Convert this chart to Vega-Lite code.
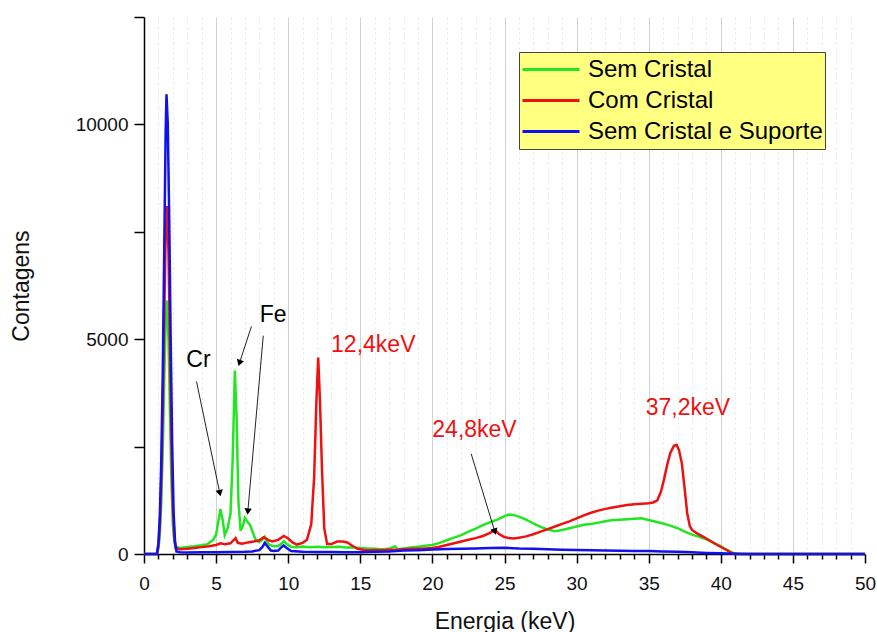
{
  "$schema": "https://vega.github.io/schema/vega-lite/v6.json",
  "width": 721,
  "height": 537,
  "autosize": "none",
  "padding": {"left": 144, "top": 17, "right": 12, "bottom": 78},
  "background": "white",
  "config": {
    "view": {"stroke": null},
    "font": "Liberation Sans",
    "legend": {
      "orient": "none",
      "legendX": 375,
      "legendY": 35,
      "fillColor": "#FFFF80",
      "strokeColor": "#444444",
      "padding": 2,
      "symbolType": "stroke",
      "symbolSize": 3249,
      "symbolStrokeWidth": 3,
      "clipHeight": 31,
      "labelFontSize": 24,
      "labelFont": "Liberation Sans",
      "labelColor": "#000000",
      "labelOffset": 7,
      "labelLimit": 400,
      "rowPadding": 0
    }
  },
  "datasets": {
    "spectra": [
      {"s": "Sem Cristal", "x": 0, "y": 0}, {"s": "Sem Cristal", "x": 0.9, "y": 0}, {"s": "Sem Cristal", "x": 1.0, "y": 120}, {"s": "Sem Cristal", "x": 1.1, "y": 450}, {"s": "Sem Cristal", "x": 1.2, "y": 1200}, {"s": "Sem Cristal", "x": 1.3, "y": 2400}, {"s": "Sem Cristal", "x": 1.4, "y": 4000}, {"s": "Sem Cristal", "x": 1.5, "y": 5400}, {"s": "Sem Cristal", "x": 1.6, "y": 5900}, {"s": "Sem Cristal", "x": 1.7, "y": 5000}, {"s": "Sem Cristal", "x": 1.8, "y": 3300}, {"s": "Sem Cristal", "x": 1.9, "y": 1700}, {"s": "Sem Cristal", "x": 2.0, "y": 700}, {"s": "Sem Cristal", "x": 2.1, "y": 280}, {"s": "Sem Cristal", "x": 2.2, "y": 170}, {"s": "Sem Cristal", "x": 2.5, "y": 140}, {"s": "Sem Cristal", "x": 3.0, "y": 165}, {"s": "Sem Cristal", "x": 3.5, "y": 180}, {"s": "Sem Cristal", "x": 4.0, "y": 205}, {"s": "Sem Cristal", "x": 4.4, "y": 230}, {"s": "Sem Cristal", "x": 4.8, "y": 330}, {"s": "Sem Cristal", "x": 5.0, "y": 450}, {"s": "Sem Cristal", "x": 5.15, "y": 750}, {"s": "Sem Cristal", "x": 5.3, "y": 1040}, {"s": "Sem Cristal", "x": 5.45, "y": 800}, {"s": "Sem Cristal", "x": 5.6, "y": 440}, {"s": "Sem Cristal", "x": 5.8, "y": 600}, {"s": "Sem Cristal", "x": 6.0, "y": 950}, {"s": "Sem Cristal", "x": 6.15, "y": 2200}, {"s": "Sem Cristal", "x": 6.3, "y": 4270}, {"s": "Sem Cristal", "x": 6.42, "y": 3200}, {"s": "Sem Cristal", "x": 6.55, "y": 1200}, {"s": "Sem Cristal", "x": 6.7, "y": 540}, {"s": "Sem Cristal", "x": 6.85, "y": 650}, {"s": "Sem Cristal", "x": 7.0, "y": 840}, {"s": "Sem Cristal", "x": 7.15, "y": 760}, {"s": "Sem Cristal", "x": 7.35, "y": 680}, {"s": "Sem Cristal", "x": 7.55, "y": 500}, {"s": "Sem Cristal", "x": 7.75, "y": 320}, {"s": "Sem Cristal", "x": 8.0, "y": 280}, {"s": "Sem Cristal", "x": 8.2, "y": 330}, {"s": "Sem Cristal", "x": 8.38, "y": 400}, {"s": "Sem Cristal", "x": 8.55, "y": 280}, {"s": "Sem Cristal", "x": 8.7, "y": 210}, {"s": "Sem Cristal", "x": 9.0, "y": 180}, {"s": "Sem Cristal", "x": 9.3, "y": 185}, {"s": "Sem Cristal", "x": 9.5, "y": 230}, {"s": "Sem Cristal", "x": 9.7, "y": 300}, {"s": "Sem Cristal", "x": 9.9, "y": 230}, {"s": "Sem Cristal", "x": 10.2, "y": 170}, {"s": "Sem Cristal", "x": 10.6, "y": 160}, {"s": "Sem Cristal", "x": 11.0, "y": 175}, {"s": "Sem Cristal", "x": 11.5, "y": 160}, {"s": "Sem Cristal", "x": 12.0, "y": 170}, {"s": "Sem Cristal", "x": 12.5, "y": 155}, {"s": "Sem Cristal", "x": 13.0, "y": 165}, {"s": "Sem Cristal", "x": 13.5, "y": 170}, {"s": "Sem Cristal", "x": 14.0, "y": 150}, {"s": "Sem Cristal", "x": 14.5, "y": 155}, {"s": "Sem Cristal", "x": 15.0, "y": 140}, {"s": "Sem Cristal", "x": 15.5, "y": 130}, {"s": "Sem Cristal", "x": 16.0, "y": 120}, {"s": "Sem Cristal", "x": 16.5, "y": 110}, {"s": "Sem Cristal", "x": 17.0, "y": 120}, {"s": "Sem Cristal", "x": 17.4, "y": 180}, {"s": "Sem Cristal", "x": 17.6, "y": 110}, {"s": "Sem Cristal", "x": 18.0, "y": 130}, {"s": "Sem Cristal", "x": 18.5, "y": 150}, {"s": "Sem Cristal", "x": 19.0, "y": 170}, {"s": "Sem Cristal", "x": 19.5, "y": 190}, {"s": "Sem Cristal", "x": 20.0, "y": 210}, {"s": "Sem Cristal", "x": 20.5, "y": 260}, {"s": "Sem Cristal", "x": 21.0, "y": 320}, {"s": "Sem Cristal", "x": 21.5, "y": 380}, {"s": "Sem Cristal", "x": 22.0, "y": 440}, {"s": "Sem Cristal", "x": 22.5, "y": 520}, {"s": "Sem Cristal", "x": 23.0, "y": 590}, {"s": "Sem Cristal", "x": 23.5, "y": 670}, {"s": "Sem Cristal", "x": 24.0, "y": 740}, {"s": "Sem Cristal", "x": 24.5, "y": 800}, {"s": "Sem Cristal", "x": 25.0, "y": 880}, {"s": "Sem Cristal", "x": 25.3, "y": 920}, {"s": "Sem Cristal", "x": 25.6, "y": 910}, {"s": "Sem Cristal", "x": 26.0, "y": 870}, {"s": "Sem Cristal", "x": 26.5, "y": 800}, {"s": "Sem Cristal", "x": 27.0, "y": 710}, {"s": "Sem Cristal", "x": 27.5, "y": 630}, {"s": "Sem Cristal", "x": 28.0, "y": 570}, {"s": "Sem Cristal", "x": 28.5, "y": 530}, {"s": "Sem Cristal", "x": 29.0, "y": 560}, {"s": "Sem Cristal", "x": 29.5, "y": 600}, {"s": "Sem Cristal", "x": 30.0, "y": 640}, {"s": "Sem Cristal", "x": 30.5, "y": 680}, {"s": "Sem Cristal", "x": 31.0, "y": 700}, {"s": "Sem Cristal", "x": 31.5, "y": 730}, {"s": "Sem Cristal", "x": 32.0, "y": 760}, {"s": "Sem Cristal", "x": 32.5, "y": 790}, {"s": "Sem Cristal", "x": 33.0, "y": 800}, {"s": "Sem Cristal", "x": 33.5, "y": 810}, {"s": "Sem Cristal", "x": 34.0, "y": 820}, {"s": "Sem Cristal", "x": 34.5, "y": 830}, {"s": "Sem Cristal", "x": 35.0, "y": 790}, {"s": "Sem Cristal", "x": 35.5, "y": 750}, {"s": "Sem Cristal", "x": 36.0, "y": 710}, {"s": "Sem Cristal", "x": 36.5, "y": 660}, {"s": "Sem Cristal", "x": 37.0, "y": 600}, {"s": "Sem Cristal", "x": 37.5, "y": 520}, {"s": "Sem Cristal", "x": 38.0, "y": 450}, {"s": "Sem Cristal", "x": 38.5, "y": 400}, {"s": "Sem Cristal", "x": 39.0, "y": 340}, {"s": "Sem Cristal", "x": 39.5, "y": 260}, {"s": "Sem Cristal", "x": 40.0, "y": 185}, {"s": "Sem Cristal", "x": 40.4, "y": 100}, {"s": "Sem Cristal", "x": 40.8, "y": 30}, {"s": "Sem Cristal", "x": 41.2, "y": 0}, {"s": "Sem Cristal", "x": 50, "y": 0},

      {"s": "Com Cristal", "x": 0, "y": 0}, {"s": "Com Cristal", "x": 0.9, "y": 0}, {"s": "Com Cristal", "x": 1.0, "y": 200}, {"s": "Com Cristal", "x": 1.1, "y": 700}, {"s": "Com Cristal", "x": 1.2, "y": 1700}, {"s": "Com Cristal", "x": 1.3, "y": 3300}, {"s": "Com Cristal", "x": 1.4, "y": 5400}, {"s": "Com Cristal", "x": 1.5, "y": 7400}, {"s": "Com Cristal", "x": 1.6, "y": 8100}, {"s": "Com Cristal", "x": 1.7, "y": 7000}, {"s": "Com Cristal", "x": 1.8, "y": 4800}, {"s": "Com Cristal", "x": 1.9, "y": 2600}, {"s": "Com Cristal", "x": 2.0, "y": 1100}, {"s": "Com Cristal", "x": 2.1, "y": 400}, {"s": "Com Cristal", "x": 2.2, "y": 140}, {"s": "Com Cristal", "x": 2.5, "y": 110}, {"s": "Com Cristal", "x": 3.0, "y": 120}, {"s": "Com Cristal", "x": 3.5, "y": 140}, {"s": "Com Cristal", "x": 4.0, "y": 160}, {"s": "Com Cristal", "x": 4.5, "y": 180}, {"s": "Com Cristal", "x": 5.0, "y": 210}, {"s": "Com Cristal", "x": 5.3, "y": 250}, {"s": "Com Cristal", "x": 5.6, "y": 230}, {"s": "Com Cristal", "x": 6.0, "y": 250}, {"s": "Com Cristal", "x": 6.2, "y": 320}, {"s": "Com Cristal", "x": 6.35, "y": 370}, {"s": "Com Cristal", "x": 6.5, "y": 260}, {"s": "Com Cristal", "x": 6.8, "y": 240}, {"s": "Com Cristal", "x": 7.2, "y": 270}, {"s": "Com Cristal", "x": 7.6, "y": 290}, {"s": "Com Cristal", "x": 8.0, "y": 320}, {"s": "Com Cristal", "x": 8.3, "y": 390}, {"s": "Com Cristal", "x": 8.6, "y": 330}, {"s": "Com Cristal", "x": 8.9, "y": 290}, {"s": "Com Cristal", "x": 9.3, "y": 330}, {"s": "Com Cristal", "x": 9.7, "y": 420}, {"s": "Com Cristal", "x": 10.0, "y": 360}, {"s": "Com Cristal", "x": 10.3, "y": 270}, {"s": "Com Cristal", "x": 10.6, "y": 220}, {"s": "Com Cristal", "x": 11.0, "y": 260}, {"s": "Com Cristal", "x": 11.3, "y": 330}, {"s": "Com Cristal", "x": 11.6, "y": 700}, {"s": "Com Cristal", "x": 11.8, "y": 1800}, {"s": "Com Cristal", "x": 11.95, "y": 3500}, {"s": "Com Cristal", "x": 12.08, "y": 4570}, {"s": "Com Cristal", "x": 12.2, "y": 3600}, {"s": "Com Cristal", "x": 12.35, "y": 1900}, {"s": "Com Cristal", "x": 12.5, "y": 600}, {"s": "Com Cristal", "x": 12.7, "y": 230}, {"s": "Com Cristal", "x": 13.0, "y": 230}, {"s": "Com Cristal", "x": 13.4, "y": 290}, {"s": "Com Cristal", "x": 13.8, "y": 290}, {"s": "Com Cristal", "x": 14.1, "y": 270}, {"s": "Com Cristal", "x": 14.5, "y": 180}, {"s": "Com Cristal", "x": 14.8, "y": 120}, {"s": "Com Cristal", "x": 15.2, "y": 100}, {"s": "Com Cristal", "x": 15.5, "y": 90}, {"s": "Com Cristal", "x": 16.0, "y": 95}, {"s": "Com Cristal", "x": 16.5, "y": 90}, {"s": "Com Cristal", "x": 17.0, "y": 100}, {"s": "Com Cristal", "x": 17.5, "y": 100}, {"s": "Com Cristal", "x": 18.0, "y": 110}, {"s": "Com Cristal", "x": 18.5, "y": 120}, {"s": "Com Cristal", "x": 19.0, "y": 120}, {"s": "Com Cristal", "x": 19.5, "y": 130}, {"s": "Com Cristal", "x": 20.0, "y": 140}, {"s": "Com Cristal", "x": 20.5, "y": 170}, {"s": "Com Cristal", "x": 21.0, "y": 210}, {"s": "Com Cristal", "x": 21.5, "y": 250}, {"s": "Com Cristal", "x": 22.0, "y": 290}, {"s": "Com Cristal", "x": 22.5, "y": 330}, {"s": "Com Cristal", "x": 23.0, "y": 370}, {"s": "Com Cristal", "x": 23.5, "y": 420}, {"s": "Com Cristal", "x": 24.0, "y": 490}, {"s": "Com Cristal", "x": 24.33, "y": 560}, {"s": "Com Cristal", "x": 24.6, "y": 470}, {"s": "Com Cristal", "x": 24.95, "y": 400}, {"s": "Com Cristal", "x": 25.3, "y": 370}, {"s": "Com Cristal", "x": 25.64, "y": 360}, {"s": "Com Cristal", "x": 26.0, "y": 380}, {"s": "Com Cristal", "x": 26.5, "y": 410}, {"s": "Com Cristal", "x": 27.0, "y": 460}, {"s": "Com Cristal", "x": 27.5, "y": 520}, {"s": "Com Cristal", "x": 28.0, "y": 580}, {"s": "Com Cristal", "x": 28.5, "y": 640}, {"s": "Com Cristal", "x": 29.0, "y": 700}, {"s": "Com Cristal", "x": 29.5, "y": 760}, {"s": "Com Cristal", "x": 30.0, "y": 830}, {"s": "Com Cristal", "x": 30.5, "y": 900}, {"s": "Com Cristal", "x": 31.0, "y": 960}, {"s": "Com Cristal", "x": 31.5, "y": 1010}, {"s": "Com Cristal", "x": 32.0, "y": 1050}, {"s": "Com Cristal", "x": 32.5, "y": 1080}, {"s": "Com Cristal", "x": 33.0, "y": 1110}, {"s": "Com Cristal", "x": 33.5, "y": 1140}, {"s": "Com Cristal", "x": 34.0, "y": 1160}, {"s": "Com Cristal", "x": 34.5, "y": 1170}, {"s": "Com Cristal", "x": 35.0, "y": 1180}, {"s": "Com Cristal", "x": 35.3, "y": 1200}, {"s": "Com Cristal", "x": 35.6, "y": 1250}, {"s": "Com Cristal", "x": 35.85, "y": 1450}, {"s": "Com Cristal", "x": 36.05, "y": 1720}, {"s": "Com Cristal", "x": 36.3, "y": 2100}, {"s": "Com Cristal", "x": 36.5, "y": 2350}, {"s": "Com Cristal", "x": 36.75, "y": 2520}, {"s": "Com Cristal", "x": 36.93, "y": 2540}, {"s": "Com Cristal", "x": 37.1, "y": 2420}, {"s": "Com Cristal", "x": 37.3, "y": 2110}, {"s": "Com Cristal", "x": 37.5, "y": 1500}, {"s": "Com Cristal", "x": 37.67, "y": 950}, {"s": "Com Cristal", "x": 37.85, "y": 650}, {"s": "Com Cristal", "x": 38.0, "y": 560}, {"s": "Com Cristal", "x": 38.4, "y": 470}, {"s": "Com Cristal", "x": 38.8, "y": 400}, {"s": "Com Cristal", "x": 39.2, "y": 320}, {"s": "Com Cristal", "x": 39.75, "y": 210}, {"s": "Com Cristal", "x": 40.3, "y": 110}, {"s": "Com Cristal", "x": 40.8, "y": 15}, {"s": "Com Cristal", "x": 41.0, "y": 0}, {"s": "Com Cristal", "x": 50, "y": 0},

      {"s": "Sem Cristal e Suporte", "x": 0, "y": 0}, {"s": "Sem Cristal e Suporte", "x": 0.9, "y": 0}, {"s": "Sem Cristal e Suporte", "x": 1.0, "y": 250}, {"s": "Sem Cristal e Suporte", "x": 1.1, "y": 900}, {"s": "Sem Cristal e Suporte", "x": 1.2, "y": 2200}, {"s": "Sem Cristal e Suporte", "x": 1.3, "y": 4200}, {"s": "Sem Cristal e Suporte", "x": 1.4, "y": 7000}, {"s": "Sem Cristal e Suporte", "x": 1.5, "y": 9800}, {"s": "Sem Cristal e Suporte", "x": 1.56, "y": 10700}, {"s": "Sem Cristal e Suporte", "x": 1.65, "y": 10000}, {"s": "Sem Cristal e Suporte", "x": 1.75, "y": 7800}, {"s": "Sem Cristal e Suporte", "x": 1.85, "y": 5000}, {"s": "Sem Cristal e Suporte", "x": 1.95, "y": 2600}, {"s": "Sem Cristal e Suporte", "x": 2.05, "y": 1000}, {"s": "Sem Cristal e Suporte", "x": 2.15, "y": 300}, {"s": "Sem Cristal e Suporte", "x": 2.25, "y": 60}, {"s": "Sem Cristal e Suporte", "x": 2.5, "y": 40}, {"s": "Sem Cristal e Suporte", "x": 3.0, "y": 35}, {"s": "Sem Cristal e Suporte", "x": 4.0, "y": 40}, {"s": "Sem Cristal e Suporte", "x": 5.0, "y": 40}, {"s": "Sem Cristal e Suporte", "x": 6.0, "y": 45}, {"s": "Sem Cristal e Suporte", "x": 7.0, "y": 50}, {"s": "Sem Cristal e Suporte", "x": 7.5, "y": 60}, {"s": "Sem Cristal e Suporte", "x": 8.0, "y": 90}, {"s": "Sem Cristal e Suporte", "x": 8.2, "y": 160}, {"s": "Sem Cristal e Suporte", "x": 8.38, "y": 260}, {"s": "Sem Cristal e Suporte", "x": 8.6, "y": 160}, {"s": "Sem Cristal e Suporte", "x": 8.8, "y": 80}, {"s": "Sem Cristal e Suporte", "x": 9.0, "y": 70}, {"s": "Sem Cristal e Suporte", "x": 9.3, "y": 80}, {"s": "Sem Cristal e Suporte", "x": 9.5, "y": 150}, {"s": "Sem Cristal e Suporte", "x": 9.68, "y": 200}, {"s": "Sem Cristal e Suporte", "x": 9.9, "y": 140}, {"s": "Sem Cristal e Suporte", "x": 10.2, "y": 70}, {"s": "Sem Cristal e Suporte", "x": 11.0, "y": 50}, {"s": "Sem Cristal e Suporte", "x": 12.0, "y": 45}, {"s": "Sem Cristal e Suporte", "x": 13.0, "y": 45}, {"s": "Sem Cristal e Suporte", "x": 14.0, "y": 40}, {"s": "Sem Cristal e Suporte", "x": 15.0, "y": 40}, {"s": "Sem Cristal e Suporte", "x": 16.0, "y": 50}, {"s": "Sem Cristal e Suporte", "x": 17.0, "y": 60}, {"s": "Sem Cristal e Suporte", "x": 18.0, "y": 80}, {"s": "Sem Cristal e Suporte", "x": 19.0, "y": 90}, {"s": "Sem Cristal e Suporte", "x": 20.0, "y": 105}, {"s": "Sem Cristal e Suporte", "x": 21.0, "y": 115}, {"s": "Sem Cristal e Suporte", "x": 22.0, "y": 125}, {"s": "Sem Cristal e Suporte", "x": 23.0, "y": 130}, {"s": "Sem Cristal e Suporte", "x": 24.0, "y": 140}, {"s": "Sem Cristal e Suporte", "x": 25.0, "y": 145}, {"s": "Sem Cristal e Suporte", "x": 26.0, "y": 130}, {"s": "Sem Cristal e Suporte", "x": 27.0, "y": 125}, {"s": "Sem Cristal e Suporte", "x": 28.0, "y": 110}, {"s": "Sem Cristal e Suporte", "x": 29.0, "y": 100}, {"s": "Sem Cristal e Suporte", "x": 30.0, "y": 95}, {"s": "Sem Cristal e Suporte", "x": 31.0, "y": 90}, {"s": "Sem Cristal e Suporte", "x": 32.0, "y": 80}, {"s": "Sem Cristal e Suporte", "x": 33.0, "y": 75}, {"s": "Sem Cristal e Suporte", "x": 34.0, "y": 70}, {"s": "Sem Cristal e Suporte", "x": 35.0, "y": 70}, {"s": "Sem Cristal e Suporte", "x": 36.0, "y": 60}, {"s": "Sem Cristal e Suporte", "x": 37.0, "y": 50}, {"s": "Sem Cristal e Suporte", "x": 38.0, "y": 40}, {"s": "Sem Cristal e Suporte", "x": 39.0, "y": 25}, {"s": "Sem Cristal e Suporte", "x": 40.0, "y": 15}, {"s": "Sem Cristal e Suporte", "x": 41.0, "y": 5}, {"s": "Sem Cristal e Suporte", "x": 42.0, "y": 0}, {"s": "Sem Cristal e Suporte", "x": 50, "y": 0}
    ],
    "arrows": [
      {"x": 3.64, "y": 4016, "x2": 5.26, "y2": 1415},
      {"x": 7.45, "y": 5298, "x2": 6.62, "y2": 4445},
      {"x": 8.27, "y": 5082, "x2": 7.2, "y2": 986},
      {"x": 22.69, "y": 2331, "x2": 24.33, "y2": 520}
    ],
    "labelsBlack": [
      {"t": "Cr", "x": 3.78, "y": 4359},
      {"t": "Fe", "x": 8.95, "y": 5392}
    ],
    "labelsRed": [
      {"t": "12,4keV", "x": 15.9, "y": 4692},
      {"t": "24,8keV", "x": 22.92, "y": 2720},
      {"t": "37,2keV", "x": 37.72, "y": 3240}
    ]
  },
  "encoding": {
    "x": {
      "field": "x",
      "type": "quantitative",
      "title": "Energia (keV)",
      "scale": {"domain": [0, 50], "nice": false, "zero": false},
      "axis": {
        "values": [0,1,2,3,4,5,6,7,8,9,10,11,12,13,14,15,16,17,18,19,20,21,22,23,24,25,26,27,28,29,30,31,32,33,34,35,36,37,38,39,40,41,42,43,44,45,46,47,48,49,50],
        "labelExpr": "datum.value % 5 === 0 ? datum.label : ''",
        "labelFontSize": 19,
        "labelColor": "#111111",
        "labelPadding": 11,
        "labelFlush": false,
        "labelOverlap": false,
        "tickSize": {"condition": {"test": "datum.value % 5 === 0", "value": 9}, "value": 5},
        "tickColor": "#000000",
        "tickWidth": 1.5,
        "domainColor": "#000000",
        "domainWidth": 1.5,
        "grid": true,
        "gridColor": {"condition": {"test": "datum.value % 5 === 0", "value": "#d2d2d2"}, "value": "#e6e6e6"},
        "gridDash": {"condition": {"test": "datum.value % 5 === 0", "value": []}, "value": [2, 3]},
        "gridOpacity": {"condition": {"test": "datum.value === 0 || datum.value === 50", "value": 0}, "value": 1},
        "gridWidth": 1,
        "titleFontSize": 23,
        "titleFontWeight": "normal",
        "titleColor": "#111111",
        "titleY": 74,
        "titleBaseline": "alphabetic"
      }
    },
    "y": {
      "field": "y",
      "type": "quantitative",
      "title": "Contagens",
      "scale": {"domain": [0, 12500], "nice": false},
      "axis": {
        "values": [0, 2500, 5000, 7500, 10000, 12500],
        "format": "d",
        "labelExpr": "datum.value % 5000 === 0 ? datum.label : ''",
        "labelFontSize": 19,
        "labelColor": "#111111",
        "labelPadding": 6,
        "tickSize": 10,
        "tickColor": "#000000",
        "tickWidth": 1.5,
        "domainColor": "#000000",
        "domainWidth": 1.5,
        "grid": false,
        "titleFontSize": 23,
        "titleFontWeight": "normal",
        "titleColor": "#111111",
        "titleX": -116,
        "titleBaseline": "alphabetic"
      }
    }
  },
  "layer": [
    {
      "data": {"name": "spectra"},
      "transform": [{"filter": "datum.s === 'Sem Cristal'"}],
      "mark": {"type": "line", "strokeWidth": 2.5},
      "encoding": {
        "color": {"field": "s", "type": "nominal", "scale": {"domain": ["Sem Cristal", "Com Cristal", "Sem Cristal e Suporte"], "range": ["#22e622", "#ee1111", "#1111ee"]}, "legend": {"title": null}}
      }
    },
    {
      "data": {"name": "spectra"},
      "transform": [{"filter": "datum.s === 'Com Cristal'"}],
      "mark": {"type": "line", "strokeWidth": 2.5},
      "encoding": {
        "color": {"field": "s", "type": "nominal", "scale": {"domain": ["Sem Cristal", "Com Cristal", "Sem Cristal e Suporte"], "range": ["#22e622", "#ee1111", "#1111ee"]}, "legend": {"title": null}}
      }
    },
    {
      "data": {"name": "spectra"},
      "transform": [{"filter": "datum.s === 'Sem Cristal e Suporte'"}],
      "mark": {"type": "line", "strokeWidth": 2.5},
      "encoding": {
        "color": {"field": "s", "type": "nominal", "scale": {"domain": ["Sem Cristal", "Com Cristal", "Sem Cristal e Suporte"], "range": ["#22e622", "#ee1111", "#1111ee"]}, "legend": {"title": null}}
      }
    },
    {
      "data": {"name": "arrows"},
      "mark": {"type": "rule", "color": "#222222", "strokeWidth": 1},
      "encoding": {
        "x2": {"field": "x2"},
        "y2": {"field": "y2"}
      }
    },
    {
      "data": {"name": "arrows"},
      "transform": [{"calculate": "atan2((datum.x2 - datum.x) * 14.42, (datum.y2 - datum.y) * 0.04296) * 180 / PI", "as": "ang"}],
      "mark": {"type": "point", "shape": "triangle-up", "filled": true, "color": "#000000", "size": 55, "opacity": 1},
      "encoding": {
        "x": {"field": "x2", "type": "quantitative", "title": "Energia (keV)"},
        "y": {"field": "y2", "type": "quantitative", "title": "Contagens"},
        "angle": {"field": "ang", "type": "quantitative", "scale": null}
      }
    },
    {
      "data": {"name": "labelsBlack"},
      "mark": {"type": "text", "font": "Liberation Sans", "fontSize": 23, "align": "center", "baseline": "alphabetic", "color": "#000000"},
      "encoding": {"text": {"field": "t"}}
    },
    {
      "data": {"name": "labelsRed"},
      "mark": {"type": "text", "font": "Liberation Sans", "fontSize": 23, "align": "center", "baseline": "alphabetic", "color": "#ee1111"},
      "encoding": {"text": {"field": "t"}}
    }
  ]
}
